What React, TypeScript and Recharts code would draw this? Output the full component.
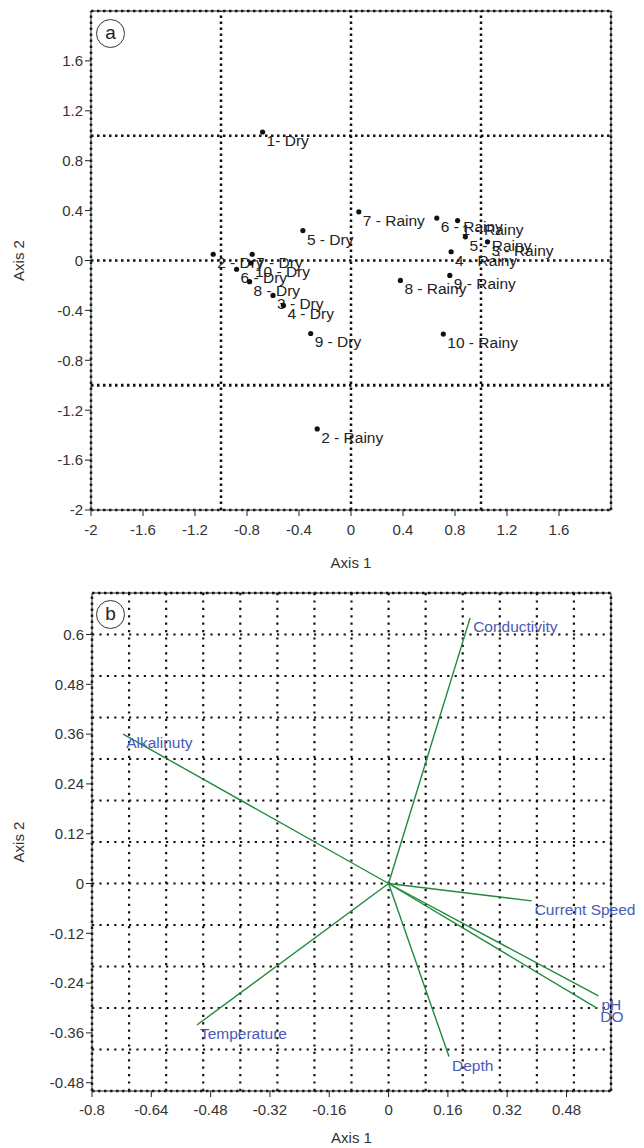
import React from "react";
import {
  ScatterChart,
  Scatter,
  XAxis,
  YAxis,
  ReferenceLine,
} from "recharts";

// panel a: site scores (dry / rainy season)
const dryNames = ["1- Dry", "2 - Dry", "3 - Dry", "4 - Dry", "5 - Dry", "6 - Dry", "7 - Dry", "8 - Dry", "9 - Dry", "10 - Dry"];
const dryX = [-0.68, -1.06, -0.6, -0.52, -0.37, -0.88, -0.76, -0.78, -0.31, -0.77];
const dryY = [1.03, 0.05, -0.28, -0.36, 0.24, -0.07, 0.05, -0.17, -0.585, -0.02];

const rainyNames = ["1 - Rainy", "2 - Rainy", "3 - Rainy", "4 - Rainy", "5 - Rainy", "6 - Rainy", "7 - Rainy", "8 - Rainy", "9 - Rainy", "10 - Rainy"];
const rainyX = [0.82, -0.26, 1.05, 0.77, 0.88, 0.66, 0.06, 0.38, 0.76, 0.71];
const rainyY = [0.32, -1.35, 0.15, 0.07, 0.19, 0.34, 0.39, -0.16, -0.12, -0.59];

const aTicks = [-2, -1.6, -1.2, -0.8, -0.4, 0, 0.4, 0.8, 1.2, 1.6];
const aGrid = [-1, 0, 1];

// panel b: environmental variable vectors
const varNames = ["Conductivity", "Alkalinuty", "Current Speed", "pH", "DO", "Depth", "Temperature"];
const varX = [0.22, -0.716, 0.386, 0.566, 0.563, 0.163, -0.517];
const varY = [0.64, 0.36, -0.042, -0.271, -0.301, -0.417, -0.341];

const bXTicks = [-0.8, -0.64, -0.48, -0.32, -0.16, 0, 0.16, 0.32, 0.48];
const bYTicks = [-0.48, -0.36, -0.24, -0.12, 0, 0.12, 0.24, 0.36, 0.48, 0.6];
const bGridX = [-0.7, -0.6, -0.5, -0.4, -0.3, -0.2, -0.1, 0, 0.1, 0.2, 0.3, 0.4, 0.5];
const bGridY = [-0.4, -0.3, -0.2, -0.1, 0, 0.1, 0.2, 0.3, 0.4, 0.5, 0.6];

const FONT = "'Liberation Sans', Arial, sans-serif";
const tickStyle = { fontSize: 15, fill: "#333", fontFamily: FONT };

const dryData = dryNames.map((name, i) => ({ name, x: dryX[i], y: dryY[i] }));
const rainyData = rainyNames.map((name, i) => ({ name, x: rainyX[i], y: rainyY[i] }));

const SiteDot = (props: any) => {
  const { cx, cy, payload } = props;
  return (
    <g>
      <circle cx={cx} cy={cy} r={2.6} fill="#111" />
      <text x={cx + 4} y={cy + 14} fontSize={15.5} fill="#222" fontFamily={FONT}>
        {payload.name}
      </text>
    </g>
  );
};

const VecEnd = (props: any) => {
  const { cx, cy, payload } = props;
  if (!payload.name) return <g />;
  return (
    <text x={cx + 3} y={cy + 14} fontSize={15.5} fill="#4a5ab5" fontFamily={FONT}>
      {payload.name}
    </text>
  );
};

const xTitle = (dy: number) => (p: any) => {
  const vb = p.viewBox;
  return (
    <text x={vb.x + vb.width / 2} y={vb.y + dy} textAnchor="middle" dominantBaseline="central" fontSize={15} fill="#333" fontFamily={FONT}>
      Axis 1
    </text>
  );
};

const yTitle = (p: any) => {
  const vb = p.viewBox;
  const cx = 18;
  const cy = vb.y + vb.height / 2;
  return (
    <text x={cx} y={cy} transform={`rotate(-90, ${cx}, ${cy})`} textAnchor="middle" dominantBaseline="central" fontSize={15} fill="#333" fontFamily={FONT}>
      Axis 2
    </text>
  );
};

const dotted = { stroke: "#111", strokeWidth: 2.5, strokeDasharray: "2.5 3.5" };
const gridDot = { stroke: "#111", strokeWidth: 2.2, strokeDasharray: "2.2 5.2" };

const Badge = ({ letter, top }: { letter: string; top: number }) => (
  <div
    style={{
      position: "absolute",
      left: 96,
      top,
      width: 27,
      height: 27,
      borderRadius: "50%",
      border: "1.3px solid #333",
      background: "#fff",
      fontFamily: FONT,
      fontSize: 19,
      lineHeight: "25px",
      textAlign: "center",
      color: "#222",
    }}
  >
    {letter}
  </div>
);

export default function App() {
  return (
    <div style={{ position: "absolute", left: 0, top: 0, width: 644, height: 1148, background: "#fff", overflow: "hidden" }}>
      <div style={{ position: "absolute", left: 0, top: 0 }}>
        <ScatterChart width={644} height={580} margin={{ top: 11, right: 33, left: 0, bottom: 0 }}>
          <XAxis
            type="number"
            dataKey="x"
            domain={[-2, 2]}
            ticks={aTicks}
            height={70}
            tick={tickStyle}
            tickMargin={8}
            tickLine={{ stroke: "#222" }}
            axisLine={{ stroke: "#222" }}
            label={{ content: xTitle(52) }}
          />
          <YAxis
            type="number"
            dataKey="y"
            domain={[-2, 2]}
            ticks={aTicks}
            width={91}
            tick={tickStyle}
            tickLine={{ stroke: "#222" }}
            axisLine={{ stroke: "#222" }}
            label={{ content: yTitle }}
          />
          <ReferenceLine x={2} stroke="#222" />
          <ReferenceLine y={2} stroke="#222" />
          {[-2, 2].map((v) => (
            <ReferenceLine key={"bx" + v} x={v} {...dotted} />
          ))}
          {[-2, 2].map((v) => (
            <ReferenceLine key={"by" + v} y={v} {...dotted} />
          ))}
          {aGrid.map((v) => (
            <ReferenceLine key={"gx" + v} x={v} {...dotted} />
          ))}
          {aGrid.map((v) => (
            <ReferenceLine key={"gy" + v} y={v} {...dotted} strokeWidth={v === -1 ? 3.2 : 2.5} />
          ))}
          <Scatter data={dryData} shape={SiteDot} isAnimationActive={false} />
          <Scatter data={rainyData} shape={SiteDot} isAnimationActive={false} />
        </ScatterChart>
      </div>
      <Badge letter="a" top={19} />

      <div style={{ position: "absolute", left: 0, top: 580 }}>
        <ScatterChart width={644} height={568} margin={{ top: 13, right: 33, left: 0, bottom: 0 }}>
          <XAxis
            type="number"
            dataKey="x"
            domain={[-0.8, 0.6]}
            ticks={bXTicks}
            height={57}
            tick={tickStyle}
            tickMargin={7}
            tickLine={{ stroke: "#222" }}
            axisLine={{ stroke: "#222" }}
            label={{ content: xTitle(46) }}
          />
          <YAxis
            type="number"
            dataKey="y"
            domain={[-0.5, 0.7]}
            ticks={bYTicks}
            width={92}
            tick={tickStyle}
            tickLine={{ stroke: "#222" }}
            axisLine={{ stroke: "#222" }}
            label={{ content: yTitle }}
          />
          <ReferenceLine x={0.6} stroke="#222" />
          <ReferenceLine y={0.7} stroke="#222" />
          {[-0.8, 0.6].map((v) => (
            <ReferenceLine key={"bx" + v} x={v} {...dotted} />
          ))}
          {[-0.5, 0.7].map((v) => (
            <ReferenceLine key={"by" + v} y={v} {...dotted} />
          ))}
          {bGridX.map((v) => (
            <ReferenceLine key={"gx" + v} x={v} {...gridDot} />
          ))}
          {bGridY.map((v) => (
            <ReferenceLine key={"gy" + v} y={v} {...gridDot} />
          ))}
          {varNames.map((name, i) => (
            <Scatter
              key={name}
              data={[
                { x: 0, y: 0, name: "" },
                { x: varX[i], y: varY[i], name },
              ]}
              line={{ stroke: "#1f8a3c", strokeWidth: 1.4 }}
              shape={VecEnd}
              isAnimationActive={false}
            />
          ))}
        </ScatterChart>
      </div>
      <Badge letter="b" top={600} />
    </div>
  );
}
